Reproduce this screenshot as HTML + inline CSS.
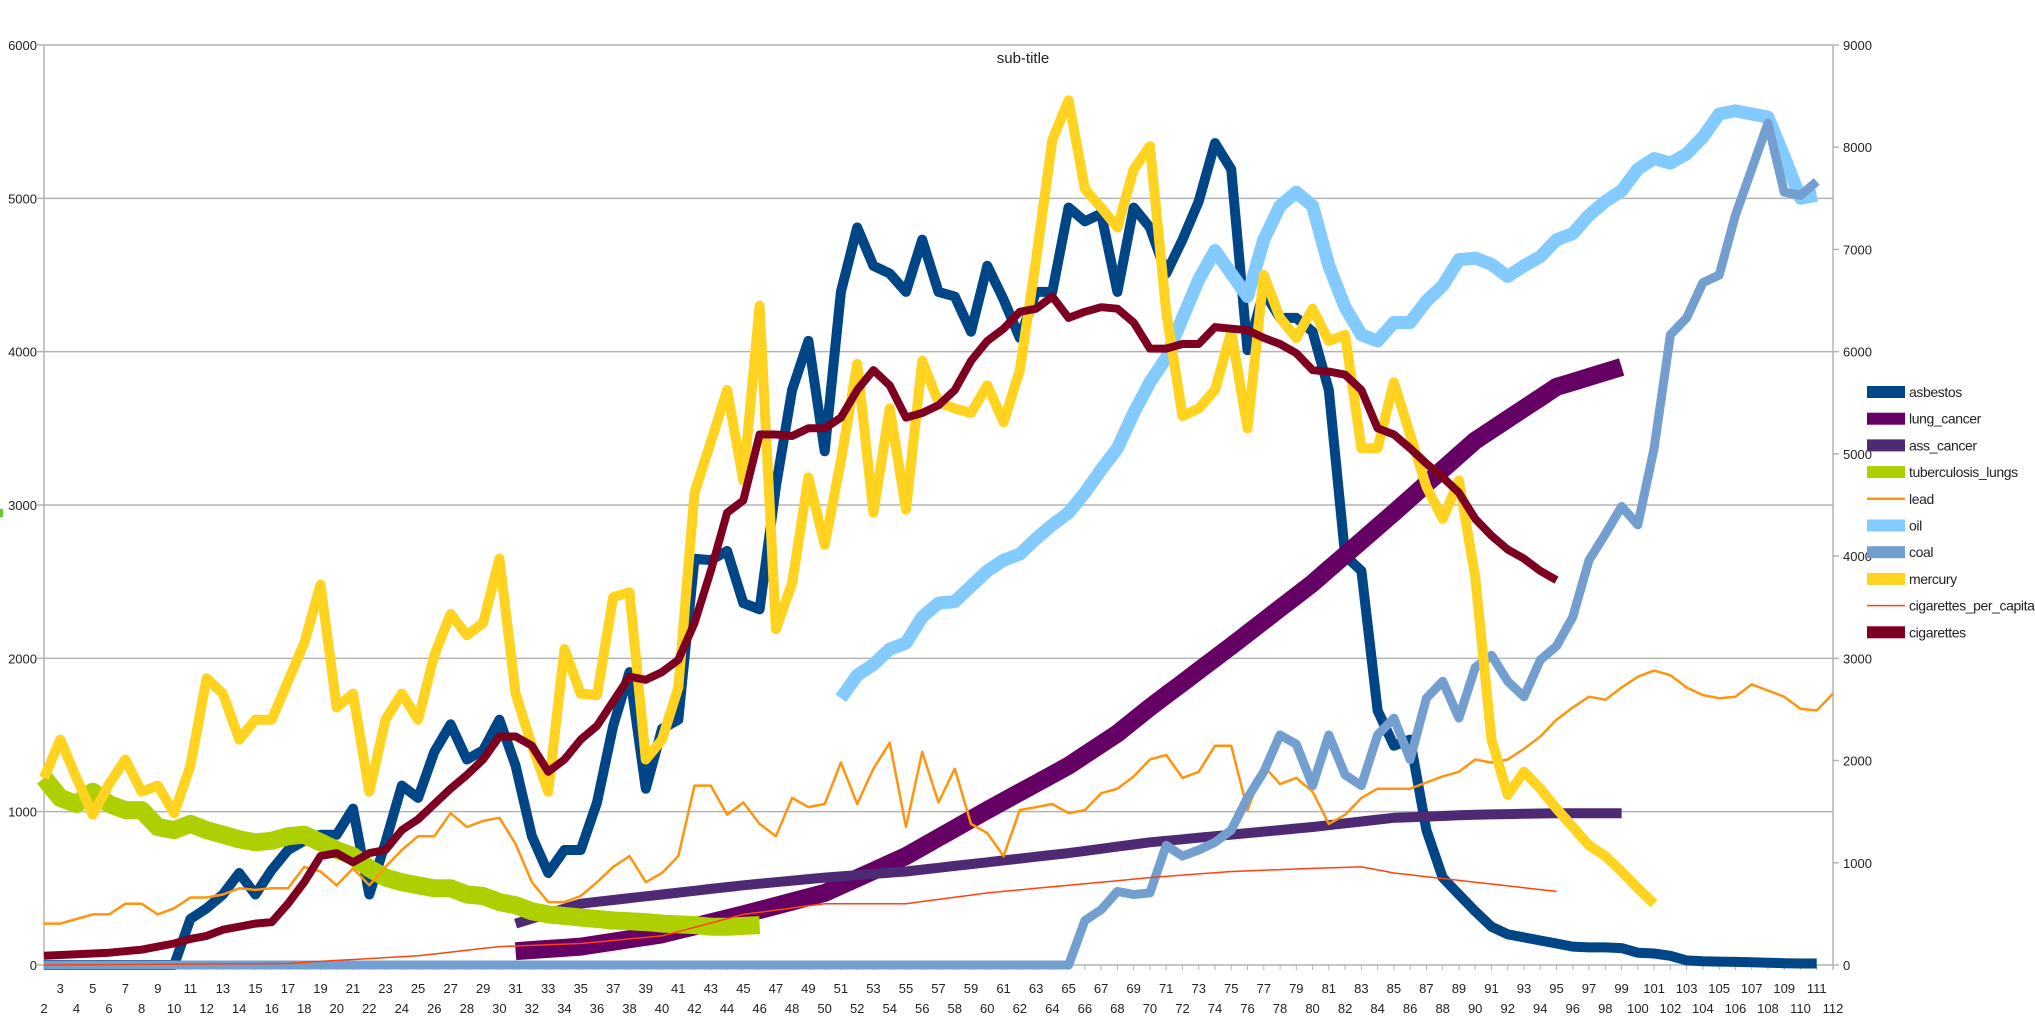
<!DOCTYPE html>
<html><head><meta charset="utf-8">
<style>
html,body{margin:0;padding:0;background:#fff;}
svg{display:block;font-family:"Liberation Sans",sans-serif;}
</style></head>
<body>
<svg id="c" width="2035" height="1024" xmlns="http://www.w3.org/2000/svg">
<rect width="2035" height="1024" fill="#fff"/>
<g id="grid"></g>
<g id="series" fill="none" stroke-linejoin="round" stroke-linecap="butt"></g>
<g id="labels" font-size="13" fill="#222"></g>
<text x="1023" y="63" font-size="15" text-anchor="middle" fill="#222">sub-title</text>
<rect x="0" y="509" width="3" height="8" fill="#6c3"/>
<g id="legend" font-size="14" fill="#222"></g>
</svg>
<script>
var NS="http://www.w3.org/2000/svg";
function el(p,t,a,txt){var e=document.createElementNS(NS,t);for(var k in a)e.setAttribute(k,a[k]);if(txt!==undefined)e.textContent=txt;document.getElementById(p).appendChild(e);return e;}
var L=44,R=1833,B=965,T=45;
function X(i){return L+(i-2)*(R-L)/110;}
function Y(v){return B-v*(B-T)/6000;}
// grid
for(var k=0;k<=6;k++){var y=Y(k*1000);el("grid","line",{x1:L-7,x2:R,y1:y,y2:y,stroke:"#b3b3b3","stroke-width":1.5});
el("labels","text",{x:L-7,y:y+5,"text-anchor":"end"},String(k*1000));}
el("grid","line",{x1:L,x2:L,y1:T,y2:B+4,stroke:"#b3b3b3","stroke-width":1.5});
el("grid","line",{x1:R,x2:R,y1:T,y2:B+4,stroke:"#b3b3b3","stroke-width":1.5});
for(var k=0;k<=9;k++){var y=B-k*(B-T)/9;el("grid","line",{x1:R,x2:R+6,y1:y,y2:y,stroke:"#b3b3b3","stroke-width":1.5});
el("labels","text",{x:R+10,y:y+5},String(k*1000));}
for(var i=2;i<=112;i++){var x=X(i);el("grid","line",{x1:x,x2:x,y1:B,y2:B+5,stroke:"#b3b3b3","stroke-width":1});
el("labels","text",{x:x,y:(i%2?993:1013),"text-anchor":"middle"},String(i));}
function ser(start,vals,color,w){var d="";for(var j=0;j<vals.length;j++){d+=(j?"L":"M")+X(start+j).toFixed(1)+","+Y(vals[j]).toFixed(1);}
el("series","path",{d:d,stroke:color,"stroke-width":w});}
function interp(pts){var out=[];for(var j=0;j<pts.length-1;j++){var a=pts[j],b=pts[j+1];for(var i=a[0];i<b[0];i++){out.push(a[1]+(b[1]-a[1])*(i-a[0])/(b[0]-a[0]));}}out.push(pts[pts.length-1][1]);return out;}
// asbestos
ser(2,[0,0,0,0,0,0,0,0,0,300,370,460,600,460,620,750,810,850,850,1020,460,800,1170,1090,1390,1570,1340,1400,1600,1300,840,600,750,750,1060,1560,1910,1150,1540,1600,2650,2640,2700,2360,2320,3120,3750,4070,3350,4390,4810,4560,4510,4390,4730,4390,4360,4130,4560,4340,4090,4390,4390,4940,4850,4900,4390,4940,4810,4510,4730,4980,5360,5190,4010,4390,4220,4220,4130,3750,2670,2570,1660,1430,1470,880,570,460,350,250,200,180,160,140,120,115,115,110,80,75,60,30,25,22,20,18,15,12,10,10],"#004586",10);
// lung cancer
ser(31,interp([[31,90],[35,120],[40,200],[45,330],[50,470],[55,710],[60,1010],[65,1300],[68,1510],[70,1680],[75,2080],[80,2490],[85,2950],[90,3420],[95,3770],[99,3900]]),"#650065",18);
// ass cancer
ser(31,interp([[31,270],[35,400],[40,460],[45,520],[50,570],[55,610],[60,670],[65,730],[70,800],[75,850],[80,900],[85,960],[90,980],[95,990],[99,990]]),"#4e2a74",10);
// tuberculosis
ser(2,[1220,1090,1050,1130,1050,1010,1010,900,880,920,880,850,820,800,810,840,850,800,750,710,630,570,540,520,500,500,460,450,410,390,350,330,320,310,300,290,285,280,270,265,260,250,250,255,260],"#aecf00",18);
// lead
ser(2,[270,270,300,330,330,400,400,330,370,440,440,460,500,490,500,500,640,610,520,630,520,640,750,840,840,990,900,940,960,790,540,410,410,450,540,640,710,540,600,710,1170,1170,980,1060,920,840,1090,1030,1050,1320,1050,1280,1450,900,1390,1060,1280,920,860,710,1010,1030,1050,990,1010,1120,1150,1230,1340,1370,1220,1260,1430,1430,1010,1300,1180,1220,1130,920,980,1090,1150,1150,1150,1190,1230,1260,1340,1320,1340,1410,1490,1600,1680,1750,1730,1810,1880,1920,1890,1810,1760,1740,1750,1830,1790,1750,1670,1660,1770],"#ff950e",2.5);
// oil
ser(51,[1740,1890,1960,2060,2100,2270,2360,2370,2470,2570,2640,2680,2780,2870,2950,3080,3230,3370,3600,3800,3960,4220,4470,4660,4510,4360,4730,4950,5040,4950,4560,4290,4110,4070,4190,4190,4330,4430,4600,4610,4570,4490,4560,4620,4730,4770,4890,4980,5050,5190,5260,5230,5290,5400,5550,5570,5550,5530,5270,5000,5020],"#83caff",13);
// coal
var coal=[];for(var i=2;i<=65;i++)coal.push(0);
coal=coal.concat([290,360,480,460,470,780,710,750,800,880,1090,1260,1500,1440,1170,1500,1240,1170,1500,1610,1340,1740,1850,1610,1940,2020,1850,1750,1990,2080,2270,2640,2810,2990,2870,3370,4110,4220,4450,4500,4890,5190,5490,5040,5020,5110]);
ser(2,coal,"#729fcf",9);
// mercury
ser(2,[1220,1470,1220,980,1180,1340,1130,1170,990,1300,1870,1770,1470,1600,1600,1850,2100,2480,1680,1770,1130,1600,1770,1600,2020,2290,2150,2230,2650,1770,1430,1130,2060,1770,1760,2400,2430,1340,1470,1810,3080,3410,3750,3160,4300,2190,2490,3180,2740,3290,3920,2950,3630,2970,3940,3670,3630,3600,3780,3540,3880,4600,5380,5640,5060,4940,4810,5190,5340,4260,3580,3630,3750,4130,3500,4500,4220,4090,4280,4070,4110,3370,3370,3800,3460,3120,2910,3160,2530,1470,1110,1260,1150,1020,900,780,710,610,500,400],"#ffd320",10);
// cigarettes per capita
ser(2,interp([[2,0],[17,10],[20,30],[25,60],[30,120],[35,140],[40,190],[45,330],[50,400],[55,400],[60,470],[65,520],[70,570],[75,610],[80,630],[83,640],[85,600],[90,540],[95,480]]),"#ff420e",1.5);
// cigarettes
ser(2,[60,65,70,75,80,90,100,120,140,170,190,230,250,270,280,400,540,710,730,670,730,750,880,950,1050,1150,1240,1340,1490,1490,1430,1260,1340,1470,1560,1720,1880,1860,1910,1990,2230,2570,2950,3030,3460,3460,3450,3500,3500,3570,3750,3880,3780,3570,3600,3650,3750,3940,4070,4150,4260,4280,4360,4220,4260,4290,4280,4190,4020,4020,4050,4050,4160,4150,4140,4090,4050,3990,3880,3870,3850,3750,3500,3460,3370,3270,3180,3080,2910,2800,2710,2650,2570,2510],"#7e0021",8);
// legend
var lg=[["asbestos","#004586",12],["lung_cancer","#650065",12],["ass_cancer","#4e2a74",12],["tuberculosis_lungs","#aecf00",12],["lead","#ff950e",2.5],["oil","#83caff",12],["coal","#729fcf",12],["mercury","#ffd320",12],["cigarettes_per_capita","#ff420e",1.5],["cigarettes","#7e0021",12]];
for(var j=0;j<lg.length;j++){var y=392+j*26.7;
el("legend","rect",{x:1867,y:y-lg[j][2]/2,width:38,height:lg[j][2],fill:lg[j][1]});
el("legend","text",{x:1909,y:y+5,"letter-spacing":"-0.4"},lg[j][0]);}
</script>
</body></html>
